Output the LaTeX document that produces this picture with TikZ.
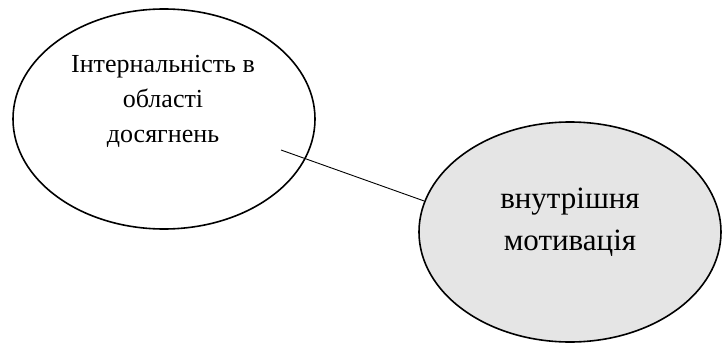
\documentclass[tikz,border=0pt]{standalone}
\usepackage{fontspec}
\setmainfont{Liberation Serif}
\usetikzlibrary{shapes.geometric}

\begin{document}
\begin{tikzpicture}[x=1pt, y=-1pt,
    blob/.style={draw, ellipse, line width=1.6pt, minimum width=302pt, minimum height=220pt, inner sep=0pt},
    blobtext/.style={align=center, font=\fontsize{26}{35}\selectfont}
]
    \useasboundingbox (0,0) rectangle (723,345);

    % Ellipses
    \node[blob] (intl) at (164,119) {};
    \node[blob, fill=gray!20] (motiv) at (570,232) {};

    % Labels
    \node[blobtext] (intltext) at (163,101) {Інтернальність в\\області\\досягнень};
    \node[blobtext, font=\fontsize{31}{42}\selectfont] (motivtext) at (570,222) {внутрішня\\мотивація};

    % Connector
    \coordinate (linkstart) at (281,150);
    \draw[line width=0.9pt] (linkstart) -- (motiv.168);
\end{tikzpicture}
\end{document}
